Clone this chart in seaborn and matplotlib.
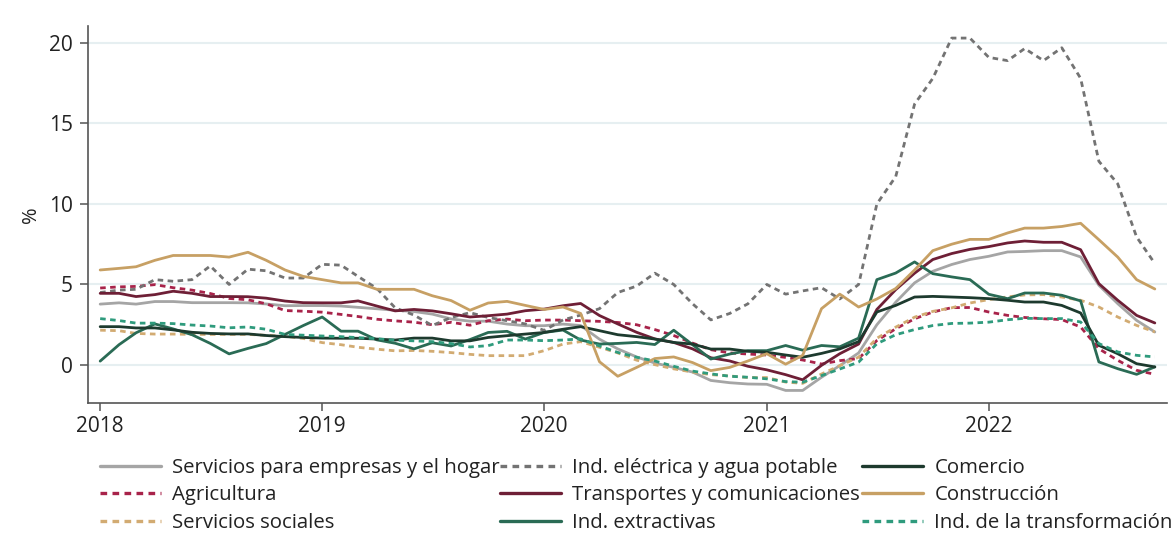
import numpy as np
import pandas as pd
import matplotlib
matplotlib.use("Agg")
import matplotlib.pyplot as plt
import matplotlib.dates as mdates
import seaborn as sns
from matplotlib.lines import Line2D

# ---------------- data ----------------
meses = pd.date_range("2018-01-01", periods=58, freq="MS")

servicios_empresas = [3.78, 3.86, 3.78, 3.94, 3.94, 3.87, 3.87, 3.87, 3.86, 3.79, 3.68, 3.69,
                      3.69, 3.66, 3.58, 3.49, 3.40, 3.32, 3.16, 2.86, 2.72, 2.72, 2.54, 2.44,
                      2.44, 2.54, 2.45, 1.60, 1.00, 0.50, 0.12, -0.15, -0.44, -0.96, -1.10, -1.18,
                      -1.20, -1.58, -1.58, -0.76, -0.04, 0.75, 2.50, 3.90, 5.10, 5.82, 6.24, 6.55,
                      6.75, 7.02, 7.05, 7.10, 7.10, 6.71, 4.95, 3.81, 2.77, 2.05]
electrica = [4.50, 4.65, 4.70, 5.30, 5.20, 5.30, 6.15, 5.00, 5.95, 5.85, 5.40, 5.40,
             6.25, 6.20, 5.50, 4.75, 3.55, 3.10, 2.45, 2.95, 3.25, 2.95, 2.75, 2.55,
             2.15, 2.80, 3.10, 3.50, 4.50, 4.90, 5.70, 5.00, 3.80, 2.80, 3.20, 3.80,
             5.00, 4.40, 4.60, 4.80, 4.10, 5.00, 10.0, 11.7, 16.2, 17.8, 20.3, 20.3,
             19.1, 18.9, 19.65, 18.9, 19.7, 17.8, 12.65, 11.25, 7.95, 6.30]
comercio = [2.38, 2.38, 2.30, 2.30, 2.18, 2.03, 1.96, 1.93, 1.93, 1.83, 1.76, 1.71,
            1.67, 1.66, 1.66, 1.61, 1.55, 1.67, 1.67, 1.50, 1.50, 1.71, 1.82, 1.92,
            2.02, 2.22, 2.38, 2.13, 1.88, 1.76, 1.61, 1.40, 1.30, 0.99, 0.99, 0.85,
            0.79, 0.62, 0.48, 0.72, 1.00, 1.45, 3.29, 3.70, 4.22, 4.26, 4.22, 4.18,
            4.12, 4.02, 3.91, 3.91, 3.70, 3.23, 1.22, 0.70, 0.08, -0.12]
agricultura = [4.78, 4.85, 4.88, 4.99, 4.80, 4.65, 4.44, 4.13, 4.05, 3.80, 3.38, 3.34,
               3.28, 3.14, 3.01, 2.84, 2.74, 2.66, 2.50, 2.65, 2.47, 2.75, 2.85, 2.75,
               2.79, 2.79, 2.75, 2.71, 2.64, 2.50, 2.20, 1.83, 1.36, 0.95, 0.75, 0.68,
               0.62, 0.47, 0.31, 0.06, 0.27, 0.40, 1.52, 2.25, 2.87, 3.29, 3.56, 3.57,
               3.29, 3.08, 2.95, 2.87, 2.82, 2.36, 1.01, 0.29, -0.33, -0.58]
transportes = [4.45, 4.45, 4.25, 4.37, 4.58, 4.45, 4.25, 4.25, 4.24, 4.15, 3.97, 3.87,
               3.86, 3.86, 3.98, 3.66, 3.36, 3.45, 3.36, 3.18, 2.98, 3.06, 3.16, 3.37,
               3.47, 3.68, 3.82, 3.07, 2.55, 2.03, 1.62, 1.40, 1.00, 0.45, 0.25, -0.08,
               -0.30, -0.60, -0.92, -0.02, 0.70, 1.30, 3.45, 4.68, 5.70, 6.55, 6.92, 7.18,
               7.35, 7.58, 7.70, 7.62, 7.62, 7.16, 5.05, 4.02, 3.08, 2.61]
construccion = [5.90, 6.00, 6.10, 6.50, 6.80, 6.80, 6.80, 6.70, 7.00, 6.50, 5.90, 5.50,
                5.30, 5.10, 5.10, 4.70, 4.70, 4.70, 4.30, 4.00, 3.40, 3.85, 3.95, 3.70,
                3.45, 3.60, 3.20, 0.20, -0.70, -0.15, 0.40, 0.50, 0.15, -0.35, -0.15, 0.25,
                0.70, 0.05, 0.60, 3.50, 4.40, 3.60, 4.10, 4.75, 5.90, 7.10, 7.50, 7.80,
                7.80, 8.20, 8.50, 8.50, 8.60, 8.80, 7.78, 6.70, 5.30, 4.72]
servicios_sociales = [2.16, 2.13, 1.96, 1.92, 1.92, 1.90, 1.90, 1.90, 1.90, 1.84, 1.78, 1.65,
                      1.39, 1.26, 1.10, 0.98, 0.88, 0.90, 0.85, 0.77, 0.66, 0.58, 0.58, 0.58,
                      0.89, 1.30, 1.45, 1.10, 0.75, 0.30, 0.02, -0.24, -0.44, -0.60, -0.68, -0.78,
                      -0.78, -1.06, -1.14, -0.56, -0.04, 0.49, 1.66, 2.35, 2.97, 3.33, 3.55, 3.85,
                      4.06, 4.23, 4.35, 4.37, 4.22, 4.02, 3.60, 2.98, 2.46, 2.05]
extractivas = [0.24, 1.26, 2.00, 2.55, 2.24, 1.88, 1.34, 0.69, 1.03, 1.33, 1.90, 2.45,
               2.98, 2.10, 2.10, 1.56, 1.35, 1.00, 1.38, 1.18, 1.58, 2.02, 2.09, 1.61,
               2.02, 2.17, 1.55, 1.30, 1.34, 1.40, 1.27, 2.16, 1.26, 0.37, 0.68, 0.89,
               0.89, 1.21, 0.92, 1.21, 1.13, 1.67, 5.30, 5.71, 6.40, 5.67, 5.47, 5.30,
               4.39, 4.12, 4.47, 4.47, 4.33, 3.98, 0.19, -0.23, -0.58, -0.12]
transformacion = [2.88, 2.76, 2.60, 2.60, 2.57, 2.48, 2.42, 2.31, 2.36, 2.22, 1.90, 1.85,
                  1.80, 1.76, 1.70, 1.63, 1.54, 1.50, 1.45, 1.33, 1.12, 1.20, 1.55, 1.55,
                  1.51, 1.55, 1.62, 1.18, 0.78, 0.48, 0.25, -0.08, -0.38, -0.55, -0.70, -0.76,
                  -0.86, -1.03, -1.07, -0.66, -0.25, 0.18, 1.32, 1.88, 2.20, 2.45, 2.58, 2.60,
                  2.66, 2.81, 2.90, 2.88, 2.88, 2.67, 1.33, 0.81, 0.60, 0.50]

series = {
    "Servicios para empresas y el hogar": servicios_empresas,
    "Agricultura": agricultura,
    "Servicios sociales": servicios_sociales,
    "Ind. eléctrica y agua potable": electrica,
    "Transportes y comunicaciones": transportes,
    "Ind. extractivas": extractivas,
    "Comercio": comercio,
    "Construcción": construccion,
    "Ind. de la transformación": transformacion,
}

colores = {
    "Servicios para empresas y el hogar": "#a5a5a5",
    "Agricultura": "#a8234a",
    "Servicios sociales": "#d2ab72",
    "Ind. eléctrica y agua potable": "#737373",
    "Transportes y comunicaciones": "#6e1f36",
    "Ind. extractivas": "#2a6b55",
    "Comercio": "#1d3a2e",
    "Construcción": "#c7a064",
    "Ind. de la transformación": "#2f9b7d",
}
punteado = (2.0, 1.6)
estilos = {
    "Servicios para empresas y el hogar": "",
    "Agricultura": punteado,
    "Servicios sociales": punteado,
    "Ind. eléctrica y agua potable": punteado,
    "Transportes y comunicaciones": "",
    "Ind. extractivas": "",
    "Comercio": "",
    "Construcción": "",
    "Ind. de la transformación": punteado,
}

df = pd.concat([pd.DataFrame({"fecha": meses, "valor": v, "serie": k}) for k, v in series.items()],
               ignore_index=True)

# ---------------- plot ----------------
sns.set_theme(style="white")
plt.rcParams["font.family"] = ["Open Sans", "DejaVu Sans"]

fig = plt.figure(figsize=(11.74, 5.54), dpi=100)
ax = fig.add_axes([88 / 1174, 1 - 403 / 554, (1167 - 88) / 1174, (403 - 26) / 554])

orden = list(series.keys())
sns.lineplot(data=df, x="fecha", y="valor", hue="serie", style="serie",
             hue_order=orden, style_order=orden, palette=colores, dashes=estilos,
             linewidth=2.0, legend=False, ax=ax)

ax.set_ylim(-2.36, 21.05)
ax.set_xlim(pd.Timestamp("2017-12-12"), pd.Timestamp("2022-10-21"))
ax.set_yticks([0, 5, 10, 15, 20])
ax.set_xticks([pd.Timestamp(f"{y}-01-01") for y in range(2018, 2023)])
ax.xaxis.set_major_formatter(mdates.DateFormatter("%Y"))
ax.yaxis.grid(True, color="#e6eff1", linewidth=1.5)
ax.set_axisbelow(True)
ax.set_xlabel("")
ax.set_ylabel("%", fontsize=14.5, color="#222222")
ax.yaxis.set_label_coords(-0.044, 0.50)
for s in ["top", "right"]:
    ax.spines[s].set_visible(False)
for s in ["left", "bottom"]:
    ax.spines[s].set_color("#555555")
    ax.spines[s].set_linewidth(1.2)
ax.tick_params(axis="both", which="both", direction="out", length=6, width=1.1,
               color="#555555", labelsize=15, labelcolor="#222222", left=True, bottom=True)
ax.tick_params(axis="y", pad=5)
ax.tick_params(axis="x", pad=3)

# legend: three columns placed individually
cols = [orden[0:3], orden[3:6], orden[6:9]]
xs = [100, 500, 862]
for xcol, nombres in zip(xs, cols):
    handles = [Line2D([], [], color=colores[n], linewidth=2.4,
                      linestyle=(0, punteado) if estilos[n] else "-") for n in nombres]
    fig.legend(handles, nombres, loc="upper left",
               bbox_to_anchor=(xcol / 1174, 1 - 458 / 554), frameon=False,
               fontsize=14.7, handlelength=3.0, handletextpad=0.55,
               labelspacing=0.36, borderpad=0, borderaxespad=0, labelcolor="#222222")

fig.savefig("out.png", dpi=100)
